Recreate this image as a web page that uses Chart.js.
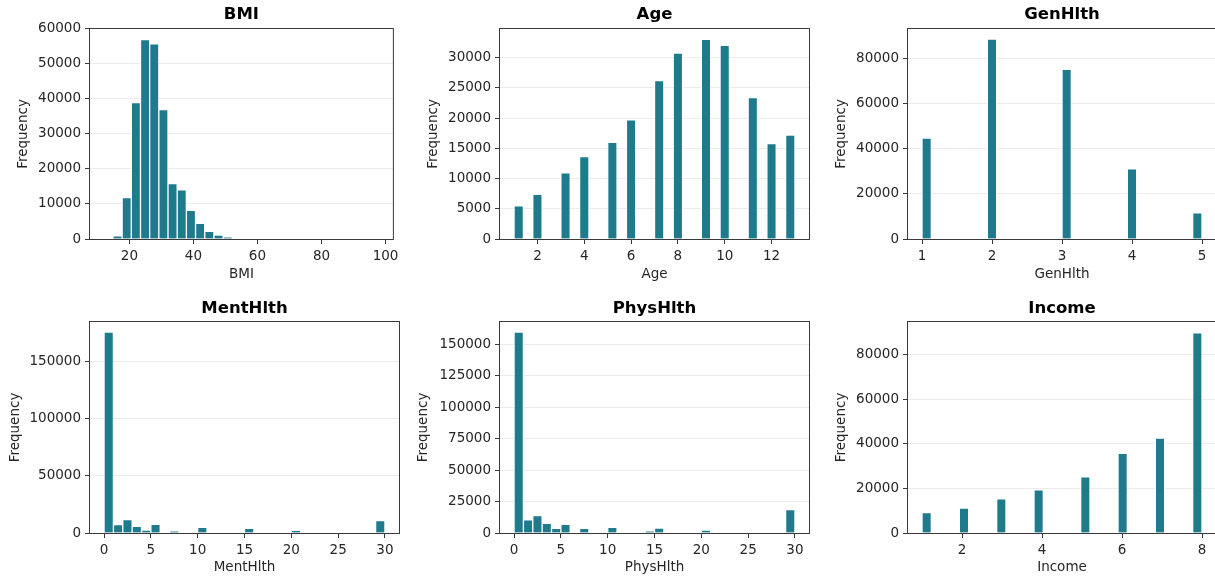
<!DOCTYPE html>
<html><head><meta charset="utf-8">
<script src="https://cdn.jsdelivr.net/npm/chart.js@4.4.1/dist/chart.umd.min.js"></script>
<style>
html,body{margin:0;padding:0;background:#fff;width:1215px;height:579px;overflow:hidden;position:relative}
canvas.p{position:absolute;display:block}
</style></head><body>
<script>
// ---- data (30-bin histogram counts) ----
const titles = ['BMI', 'Age', 'GenHlth', 'MentHlth', 'PhysHlth', 'Income'];
const binRanges = [[12, 98], [1, 13], [1, 5], [0, 30], [0, 30], [1, 8]];
const bmiCounts = [0, 900, 11800, 38900, 56900, 55700, 36900, 15800, 14000, 8200,
  4500, 2200, 1100, 500, 0, 0, 0, 0, 0, 0, 0, 0, 0, 0, 0, 0, 0, 0, 0, 0];
const ageCounts = [5500, 0, 7400, 0, 0, 10950, 0, 13650, 0, 0, 16000, 0, 19700, 0, 0,
  26200, 0, 30750, 0, 0, 33050, 0, 32050, 0, 0, 23400, 0, 15800, 0, 17200];
const genHlthCounts = [44800, 0, 0, 0, 0, 0, 0, 88700, 0, 0, 0, 0, 0, 0, 0,
  75300, 0, 0, 0, 0, 0, 0, 31100, 0, 0, 0, 0, 0, 0, 11600];
const mentHlthCounts = [175500, 7300, 11700, 5900, 2600, 7600, 0, 1800, 0, 0,
  5000, 0, 0, 0, 0, 4100, 0, 0, 0, 0, 2400, 0, 0, 0, 0, 0, 0, 0, 0, 10800];
const physHlthCounts = [159500, 10400, 13800, 7700, 3700, 6900, 0, 3700, 0, 0,
  4500, 0, 0, 0, 1600, 4000, 0, 0, 0, 0, 2400, 0, 0, 0, 0, 0, 0, 0, 0, 18600];
const incomeCounts = [9200, 0, 0, 0, 11200, 0, 0, 0, 15400, 0, 0, 0, 19400, 0, 0, 0, 0,
  25200, 0, 0, 0, 35800, 0, 0, 0, 42600, 0, 0, 0, 89900];
const allCounts = [bmiCounts, ageCounts, genHlthCounts, mentHlthCounts, physHlthCounts, incomeCounts];

const xTicks = [[20, 40, 60, 80, 100], [2, 4, 6, 8, 10, 12], [1, 2, 3, 4, 5],
  [0, 5, 10, 15, 20, 25, 30], [0, 5, 10, 15, 20, 25, 30], [2, 4, 6, 8]];
const yTicks = [[0, 10000, 20000, 30000, 40000, 50000, 60000],
  [0, 5000, 10000, 15000, 20000, 25000, 30000],
  [0, 20000, 40000, 60000, 80000],
  [0, 50000, 100000, 150000],
  [0, 25000, 50000, 75000, 100000, 125000, 150000],
  [0, 20000, 40000, 60000, 80000]];
const xLimits = [[7.7, 102.3], [0.4, 13.6], [0.8, 5.2], [-1.5, 31.5], [-1.5, 31.5], [0.65, 8.35]];
const yMax = [59900, 34750, 93200, 184300, 167500, 94800];

// ---- layout / style ----
const axCols = [[90, 399], [500, 809], [908, 1216]];
const axRows = [[29, 239], [322, 533]];
const ylabelX = [23.3, 432.7, 840.7, 15, 423.3, 840.7];
const xlabelY = [275, 568.3];
const titleY = [15, 309];
const FS = 13.5, LH = FS * 1.2;
const FONT = '"DejaVu Sans", Verdana, sans-serif';
const BAR = '#1f7a8c';
const TXT = '#262626';
const SPINE = '#3a3a3a';

const framePlugin = {
  id: 'frame',
  afterDatasetsDraw(chart) {
    const { ctx, chartArea: a } = chart;
    ctx.save();
    ctx.strokeStyle = SPINE;
    ctx.lineWidth = 1;
    ctx.strokeRect(a.left - 0.5, a.top - 0.5, a.right - a.left + 1, a.bottom - a.top + 1);
    ctx.restore();
  },
  afterDraw(chart) {
    const o = chart.options.plugins.frame;
    const { ctx, chartArea: a } = chart;
    ctx.save();
    ctx.fillStyle = '#000';
    ctx.font = 'bold 16.5px ' + FONT;
    ctx.textAlign = 'center';
    ctx.textBaseline = 'middle';
    ctx.fillText(o.text, (a.left + a.right) / 2, o.y);
    ctx.restore();
  }
};

titles.forEach((name, i) => {
  const col = i % 3, row = Math.floor(i / 3);
  const [axL, axR] = axCols[col];
  const [axT, axB] = axRows[row];
  const cl = Math.round(ylabelX[i] - LH / 2);
  const ct = axT - 29;
  const yW = axL - cl;
  const xH = Math.round(xlabelY[row] + LH / 2) - axB;
  const w = axR + 4 - cl;
  const h = axB + xH - ct;
  const cv = document.createElement('canvas');
  cv.className = 'p';
  cv.width = w; cv.height = h;
  cv.style.left = cl + 'px'; cv.style.top = ct + 'px';
  cv.style.width = w + 'px'; cv.style.height = h + 'px';
  document.body.appendChild(cv);

  const [lo, hi] = binRanges[i];
  const counts = allCounts[i];
  const bw = (hi - lo) / counts.length;
  const pts = counts.map((c, k) => ({ x: lo + (k + 0.5) * bw, y: c > 0 ? c : null }));
  const tickFont = { family: FONT, size: FS };

  new Chart(cv, {
    type: 'bar',
    data: { datasets: [{
      data: pts,
      backgroundColor: BAR,
      borderColor: 'rgba(255,255,255,0.7)',
      borderWidth: 1,
      barPercentage: 1,
      categoryPercentage: 1
    }] },
    options: {
      responsive: false,
      animation: false,
      events: [],
      layout: { padding: { left: 0, right: 4, top: 29, bottom: 0 } },
      plugins: {
        legend: { display: false },
        tooltip: { enabled: false },
        title: { display: false },
        frame: { text: name, y: titleY[row] - ct }
      },
      scales: {
        x: {
          type: 'linear',
          min: xLimits[i][0], max: xLimits[i][1],
          offset: false,
          grid: { display: true, drawOnChartArea: false, drawTicks: true, tickLength: 5, tickColor: SPINE, offset: false },
          border: { display: false },
          ticks: { font: tickFont, color: TXT, padding: 4.5, autoSkip: false, maxRotation: 0, callback: v => String(v) },
          afterBuildTicks: s => { s.ticks = xTicks[i].map(v => ({ value: v })); },
          afterFit: s => { s.height = xH; },
          title: { display: true, text: name, font: tickFont, color: TXT, padding: 0 }
        },
        y: {
          type: 'linear',
          min: 0, max: yMax[i],
          grid: { color: '#ebebeb', lineWidth: 1, tickColor: SPINE, tickLength: 5 },
          border: { display: false },
          ticks: { font: tickFont, color: TXT, padding: 4, callback: v => String(v) },
          afterBuildTicks: s => { s.ticks = yTicks[i].map(v => ({ value: v })); },
          afterFit: s => { s.width = yW; },
          title: { display: true, text: 'Frequency', font: tickFont, color: TXT, padding: 0 }
        }
      }
    },
    plugins: [framePlugin]
  });
});
</script>
</body></html>
